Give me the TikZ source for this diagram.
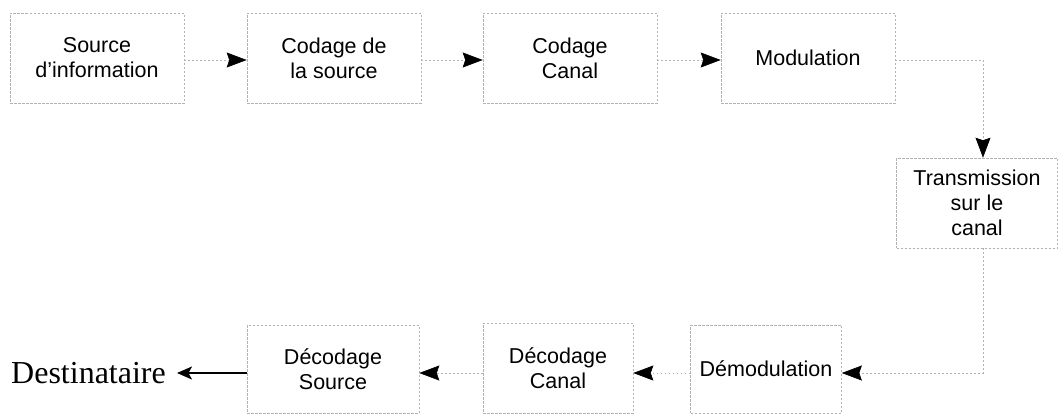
\documentclass[tikz,border=0pt]{standalone}
\usepackage{fontspec}
\setmainfont{Liberation Sans}
\newfontfamily\serifface{Liberation Serif}
\usetikzlibrary{arrows.meta}
\begin{document}
\begin{tikzpicture}[x=1pt,y=-1pt,
  block/.style={draw=gray!60, line width=0.6pt, dash pattern=on 2.5pt off 1.5pt,
    minimum width=174pt, minimum height=90pt, inner sep=0pt, align=center,
    font=\fontsize{21.5}{25}\selectfont},
  flow/.style={draw=gray!60, line width=0.6pt, dash pattern=on 1.5pt off 2.5pt,
    -{Stealth[length=20pt,width=15pt,inset=2.5pt,color=black]}},
  final/.style={draw=black, line width=1.6pt,
    -{Stealth[length=15pt,width=13pt,inset=3.5pt]}},
]
\useasboundingbox (0,0) rectangle (1061,416);

% transmitter chain
\node[block] (src)  at (97,58)  {Source\\d'information};
\node[block] (csrc) at (334,58) {Codage de\\la source};
\node[block] (ccan) at (570,58) {Codage\\Canal};
\node[block] (mod)  at (808,58) {Modulation};

% channel
\node[block, minimum width=161pt] (trans) at (977,203) {Transmission\\sur le\\canal};

% receiver chain
\node[block, minimum width=151pt, minimum height=88pt] (dmod) at (766,369) {Démodulation};
\node[block, minimum width=150pt] (dcan) at (558,368) {Décodage\\Canal};
\node[block, minimum width=172pt, minimum height=88pt] (dsrc) at (333,369) {Décodage\\Source};

\node[anchor=base west, inner sep=0pt, font=\serifface\fontsize{32}{36}\selectfont]
  (dest) at (11,383) {Destinataire};

% bends of the channel connectors
\coordinate (c1) at (983,60);
\coordinate (c2) at (983,373);

\draw[flow] (src.east |- c1) -- (csrc.west |- c1);
\draw[flow] (csrc.east |- c1) -- (ccan.west |- c1);
\draw[flow] (ccan.east |- c1) -- (mod.west |- c1);
\draw[flow] (mod.east |- c1) -- (c1) -- (c1 |- trans.north);
\draw[flow] (c1 |- trans.south) -- (c2) -- (c2 -| dmod.east);
\draw[flow] (c2 -| dmod.west) -- (c2 -| dcan.east);
\draw[flow] (c2 -| dcan.west) -- (c2 -| dsrc.east);
\draw[final] (c2 -| dsrc.west) -- ([xshift=11pt]dest.east |- c2);
\end{tikzpicture}
\end{document}
